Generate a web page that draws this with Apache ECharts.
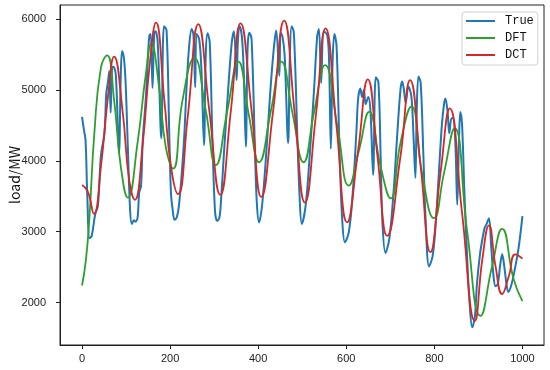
<!DOCTYPE html>
<html>
<head>
<meta charset="utf-8">
<script src="https://cdn.jsdelivr.net/npm/echarts@6/dist/echarts.min.js"></script>
<style>
html,body{margin:0;padding:0;background:#fff;}
#chart{width:550px;height:370px;}
</style>
</head>
<body>
<div id="chart"></div>
<script>
// ---- data ----
var xTicks = [0, 200, 400, 600, 800, 1000];
var yTicks = [2000, 3000, 4000, 5000, 6000];
var seriesNames = ['True', 'DFT', 'DCT'];

var trueX = [0,4,8,12,17,22,30,36,43,51,55,59,62,65,69,73,77,84,88,91,95,99,104,109,113,118,121,126,130,134,138,145,150,153,156,160,164,167,172,180,186,192,198,202,206,210,215,220,228,233,237,243,249,253,257,260,266,271,277,281,285,290,296,302,307,312,315,322,332,340,345,351,354,358,363,367,372,376,380,385,393,397,402,409,418,428,436,441,448,451,455,460,468,472,476,481,489,494,499,508,517,527,534,538,543,549,557,561,565,569,573,578,585,591,597,606,615,623,627,632,636,640,644,650,655,661,667,673,678,682,689,698,708,714,723,727,731,735,741,748,753,757,760,764,769,775,780,788,796,803,810,817,822,825,830,834,839,843,848,852,856,859,863,868,874,880,886,892,897,904,909,914,918,924,929,934,939,944,949,954,959,964,968,975,984,992,1000];
var trueY = [4620,4450,4290,3500,2910,2940,3250,3360,4080,4390,4950,5120,5270,4680,5330,5320,5200,4110,5200,5550,5460,5100,4200,3330,3110,3160,3140,3190,3560,3640,4300,4900,5500,5770,5790,5030,5800,5830,5660,4320,5900,5840,4400,3540,3300,3170,3200,3360,3950,4450,5000,5600,5860,5780,5040,5790,5720,5300,4220,5500,5800,5670,4320,3290,3150,3200,3380,4080,5020,5670,5830,5140,5700,5900,5750,5300,4200,5600,5810,5720,4080,3400,3130,3380,4080,5020,5620,5840,5200,5810,5760,5500,4250,5500,5900,5810,4320,3500,3110,3380,4080,5020,5760,5860,5100,5830,5770,5400,4170,5400,5790,5620,4080,3150,2850,3000,3570,4410,4880,5020,4900,5000,4800,4900,4700,3800,5180,5110,4080,3150,2700,2910,3610,4200,5000,5120,5000,4820,5050,4900,4300,3760,4700,5190,5100,4100,3200,2510,2650,3100,3800,4500,4800,4880,4700,4390,4600,4600,4200,3380,4300,4690,4500,3600,2700,2000,1650,1800,2280,2700,2890,3050,3100,3190,2800,2400,2230,2260,2500,2680,2500,2250,2150,2250,2510,2800,3220];

var dftX = [0,9,17,28,43,57,73,88,104,126,145,157,175,190,207,228,255,281,304,330,355,379,402,429,453,478,503,527,552,580,606,629,652,678,701,723,748,772,799,822,846,875,905,931,954,980,1000];
var dftY = [2240,2610,3220,4390,5320,5490,4850,3920,3480,4250,5230,5650,5040,4200,3890,4850,5450,4710,3940,4710,5400,4640,3980,4710,5400,4670,3980,4690,5350,4480,3650,4150,4690,3920,3470,4250,4770,3830,3190,3830,4460,2980,1810,2510,3040,2330,2020];

var dctX = [0,13,27,43,58,73,92,107,120,138,153,168,187,202,218,240,264,289,314,338,360,385,407,434,459,483,506,531,553,578,602,627,649,671,693,723,745,769,791,814,835,863,892,909,924,939,954,969,984,1000];
var dctY = [3660,3570,3250,3920,4850,5470,4710,3730,3450,4250,5320,5950,4850,3920,3530,4620,5930,4710,3520,4710,5940,4710,3490,4710,5980,4670,3410,4640,5870,4480,3130,4150,5150,4060,2940,4060,5140,3920,2710,3830,4740,3260,1740,2610,3090,2510,2120,2370,2680,2620];

function pairs(xs, ys){ return xs.map(function(x,i){ return [x, ys[i]]; }); }
function plain(v){ return String(v); }

var chart = echarts.init(document.getElementById('chart'), null, {renderer:'canvas'});
var axisColor = '#222';
chart.setOption({
  animation: false,
  backgroundColor: '#fff',
  grid: { left: 60, right: 6, top: 5, bottom: 25, containLabel: false, outerBoundsMode: 'none',
          show: true, borderColor: axisColor, borderWidth: 1, backgroundColor: 'transparent' },
  legend: {
    left: 462, top: 12, orient: 'vertical', align: 'left',
    data: seriesNames,
    icon: 'rect', itemWidth: 29, itemHeight: 2, itemGap: 3,
    padding: [2, 4, 3, 4],
    borderColor: '#d0d0d0', borderWidth: 1, borderRadius: 3, backgroundColor: 'rgba(255,255,255,0.8)',
    textStyle: { fontFamily: 'Liberation Mono', fontSize: 12, color: '#111', lineHeight: 14, padding: [0,0,0,5] }
  },
  xAxis: {
    type: 'value', min: -50, max: 1049,
    axisLine: { show: true, onZero: false, lineStyle: { color: axisColor, width: 1 } },
    axisTick: { show: true, inside: false, length: 4, lineStyle: { color: axisColor }, customValues: xTicks },
    axisLabel: { customValues: xTicks, formatter: plain, fontFamily: 'Liberation Sans', fontSize: 11, color: '#222', margin: 8 },
    splitLine: { show: false }
  },
  yAxis: {
    type: 'value', min: 1400, max: 6200,
    name: 'load/MW', nameLocation: 'middle', nameGap: 38, nameMoveOverlap: false,
    nameTextStyle: { fontFamily: 'Noto Sans CJK SC', fontSize: 14, color: '#111' },
    axisLine: { show: true, onZero: false, lineStyle: { color: axisColor, width: 1 } },
    axisTick: { show: true, inside: false, length: 4, lineStyle: { color: axisColor }, customValues: yTicks },
    axisLabel: { customValues: yTicks, formatter: plain, fontFamily: 'Liberation Sans', fontSize: 11, color: '#222', margin: 14 },
    splitLine: { show: false }
  },
  series: [
    { name: seriesNames[0], type: 'line', data: pairs(trueX, trueY), symbol: 'none', smooth: 0.35,
      lineStyle: { color: '#1f77b4', width: 2 }, itemStyle: { color: '#1f77b4' } },
    { name: seriesNames[1], type: 'line', data: pairs(dftX, dftY), symbol: 'none', smooth: 0.5,
      lineStyle: { color: '#2ca02c', width: 1.8 }, itemStyle: { color: '#2ca02c' } },
    { name: seriesNames[2], type: 'line', data: pairs(dctX, dctY), symbol: 'none', smooth: 0.5,
      lineStyle: { color: '#d62728', width: 1.8 }, itemStyle: { color: '#d62728' } }
  ]
});
</script>
</body>
</html>
